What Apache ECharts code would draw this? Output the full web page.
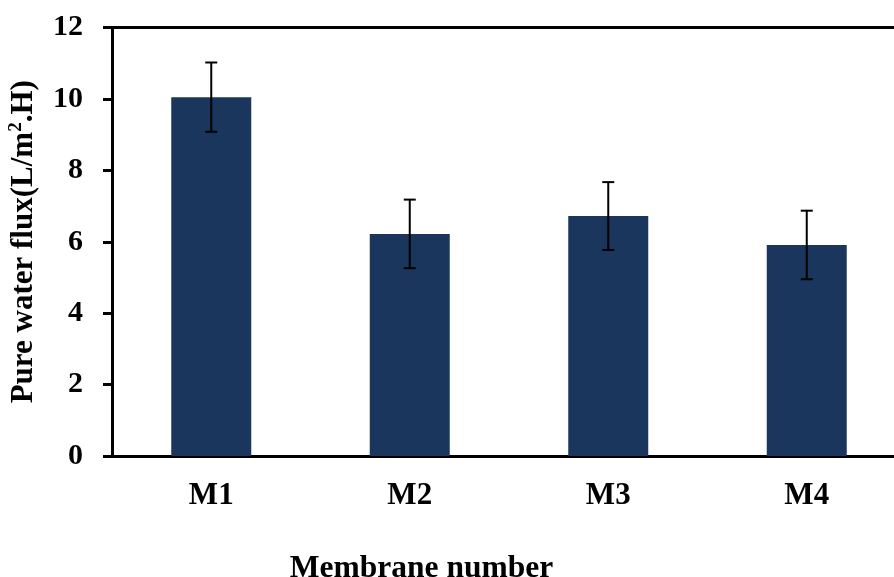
<!DOCTYPE html>
<html>
<head>
<meta charset="utf-8">
<script src="https://cdn.jsdelivr.net/npm/echarts@6/dist/echarts.min.js"></script>
<style>
  html, body { margin: 0; padding: 0; background: #fff; }
  #chart { width: 894px; height: 577px; }
</style>
</head>
<body>
<div id="chart"></div>
<script>
// Membranes and their pure water flux (L/m2.H) with standard deviation
const membranes = ['M1', 'M2', 'M3', 'M4'];
const flux = [10.05, 6.22, 6.72, 5.91];
const fluxError = [0.97, 0.96, 0.95, 0.96];
const yTicks = { min: 0, max: 12, step: 2 };

const serif = '"Liberation Serif", "Times New Roman", serif';
const barColor = '#1b365d';

const chart = echarts.init(document.getElementById('chart'));

chart.setOption({
  animation: false,
  backgroundColor: '#ffffff',
  title: {
    text: 'Membrane number',
    left: 421.5,
    top: 553,
    padding: 0,
    textAlign: 'center',
    textStyle: { fontFamily: serif, fontWeight: 'bold', fontSize: 31.5, color: '#000' }
  },
  // plot frame runs past the right edge of the canvas
  grid: { left: 112, width: 794, top: 27.5, height: 428.5, outerBoundsMode: 'none' },
  xAxis: [
    {
      type: 'category',
      data: membranes,
      axisLine: { lineStyle: { color: '#000', width: 3 } },
      axisTick: { show: false },
      axisLabel: {
        margin: 24,
        fontFamily: serif, fontWeight: 'bold', fontSize: 31, color: '#000'
      }
    },
    {
      type: 'category',
      position: 'top',
      data: membranes,
      axisLine: { lineStyle: { color: '#000', width: 3 } },
      axisTick: { show: false },
      axisLabel: { show: false }
    }
  ],
  yAxis: {
    type: 'value',
    min: yTicks.min,
    max: yTicks.max,
    interval: yTicks.step,
    name: 'Pure water flux(L/m{sup|2}.H)',
    nameLocation: 'middle',
    nameGap: 72,
    nameTextStyle: {
      fontFamily: serif, fontWeight: 'bold', fontSize: 31, color: '#000',
      rich: {
        sup: { fontFamily: serif, fontWeight: 'bold', fontSize: 19, color: '#000', verticalAlign: 'top', padding: [0, 0, 14, 0] }
      }
    },
    axisLine: { show: true, lineStyle: { color: '#000', width: 3 } },
    axisTick: { show: true, length: 9, lineStyle: { color: '#000', width: 3 } },
    splitLine: { show: false },
    axisLabel: {
      margin: 29,
      fontFamily: serif, fontWeight: 'bold', fontSize: 30, color: '#000'
    }
  },
  series: [
    {
      type: 'bar',
      data: flux,
      barWidth: 80,
      itemStyle: { color: barColor },
      z: 2
    },
    {
      type: 'custom',
      z: 3,
      data: flux.map((v, i) => [i, v - fluxError[i], v + fluxError[i]]),
      renderItem: function (params, api) {
        const x = api.value(0);
        const lo = api.coord([x, api.value(1)]);
        const hi = api.coord([x, api.value(2)]);
        const cap = 6;
        const style = { stroke: '#000', lineWidth: 2 };
        return {
          type: 'group',
          children: [
            { type: 'line', shape: { x1: hi[0], y1: hi[1], x2: lo[0], y2: lo[1] }, style: style },
            { type: 'line', shape: { x1: hi[0] - cap, y1: hi[1], x2: hi[0] + cap, y2: hi[1] }, style: style },
            { type: 'line', shape: { x1: lo[0] - cap, y1: lo[1], x2: lo[0] + cap, y2: lo[1] }, style: style }
          ]
        };
      }
    }
  ]
});
</script>
</body>
</html>
